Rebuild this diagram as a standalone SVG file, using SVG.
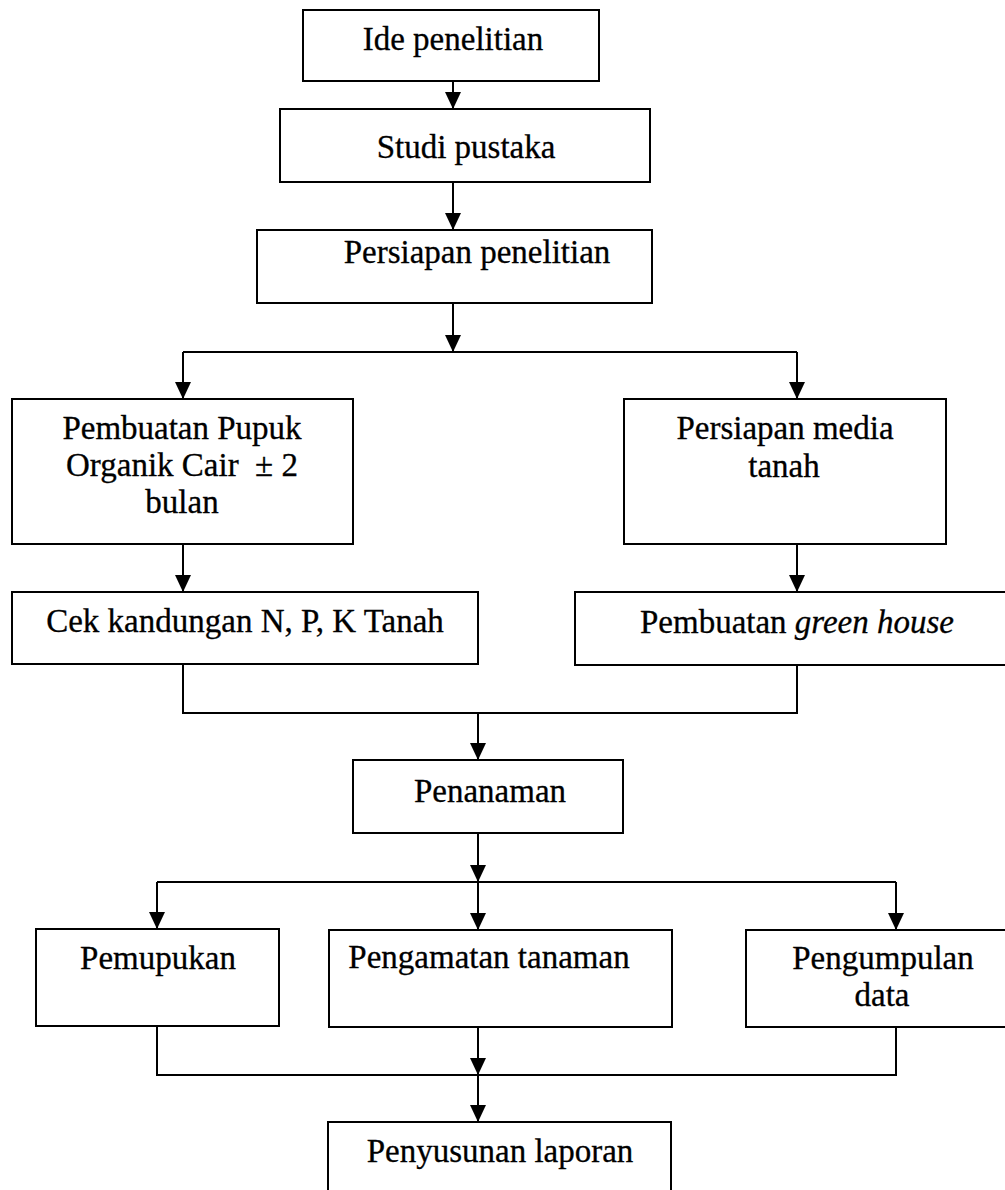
<svg xmlns="http://www.w3.org/2000/svg" width="1005" height="1190" viewBox="0 0 1005 1190">
<style>
.box{fill:#fff;stroke:#000;stroke-width:2}
.t{font-family:"Liberation Serif","Times New Roman",serif;font-size:33px;fill:#000;text-anchor:middle;stroke:#000;stroke-width:0.3}
.c{fill:none;stroke:#000;stroke-width:2}
.a{marker-end:url(#ah)}
</style>
<defs>
<marker id="ah" markerUnits="userSpaceOnUse" markerWidth="18" markerHeight="16" refX="17" refY="8" orient="auto">
<path d="M0,0 L17,8 L0,16 Z" fill="#000"/>
</marker>
</defs>
<rect width="1005" height="1190" fill="#fff"/>
<g id="connectors">
<path class="c a" d="M453,81 V109"/>
<path class="c a" d="M453,182 V230"/>
<path class="c a" d="M453,303 V352"/>
<path class="c" d="M183,352 H797"/>
<path class="c a" d="M183,352 V399"/>
<path class="c a" d="M797,352 V399"/>
<path class="c a" d="M183,544 V592"/>
<path class="c a" d="M797,544 V592"/>
<path class="c" d="M183,664 V713 H797 V665"/>
<path class="c a" d="M478,713 V760"/>
<path class="c a" d="M478,833 V882"/>
<path class="c" d="M157,882 H896"/>
<path class="c a" d="M157,882 V929"/>
<path class="c a" d="M478,882 V930"/>
<path class="c a" d="M896,882 V930"/>
<path class="c" d="M157,1026 V1075 H896 V1027"/>
<path class="c a" d="M478,1027 V1075"/>
<path class="c a" d="M478,1075 V1122"/>
</g>
<g id="ide">
<rect class="box" x="303" y="10" width="296" height="71"/>
<text class="t" x="453" y="50">Ide penelitian</text>
</g>
<g id="studi">
<rect class="box" x="280" y="109" width="370" height="73"/>
<text class="t" x="466" y="158">Studi pustaka</text>
</g>
<g id="persiapan">
<rect class="box" x="257" y="230" width="395" height="73"/>
<text class="t" x="477" y="263">Persiapan penelitian</text>
</g>
<g id="pupuk">
<rect class="box" x="12" y="399" width="341" height="145"/>
<text class="t" x="182" y="439">Pembuatan Pupuk</text>
<text class="t" x="182" y="476" xml:space="preserve">Organik Cair  ± 2</text>
<text class="t" x="182" y="513">bulan</text>
</g>
<g id="media">
<rect class="box" x="624" y="399" width="322" height="145"/>
<text class="t" x="785" y="439">Persiapan media</text>
<text class="t" x="784" y="477">tanah</text>
</g>
<g id="cek">
<rect class="box" x="12" y="592" width="466" height="72"/>
<text class="t" x="245" y="632">Cek kandungan N, P, K Tanah</text>
</g>
<g id="greenhouse">
<rect class="box" x="575" y="592" width="440" height="73"/>
<text class="t" x="797" y="633">Pembuatan <tspan font-style="italic">green house</tspan></text>
</g>
<g id="penanaman">
<rect class="box" x="353" y="760" width="270" height="73"/>
<text class="t" x="490" y="802">Penanaman</text>
</g>
<g id="pemupukan">
<rect class="box" x="36" y="929" width="243" height="97"/>
<text class="t" x="158" y="969">Pemupukan</text>
</g>
<g id="pengamatan">
<rect class="box" x="329" y="930" width="343" height="97"/>
<text class="t" x="489" y="968">Pengamatan tanaman</text>
</g>
<g id="pengumpulan">
<rect class="box" x="746" y="930" width="270" height="97"/>
<text class="t" x="883" y="969">Pengumpulan</text>
<text class="t" x="882" y="1006">data</text>
</g>
<g id="penyusunan">
<rect class="box" x="328" y="1122" width="343" height="90"/>
<text class="t" x="500" y="1162">Penyusunan laporan</text>
</g>
</svg>
